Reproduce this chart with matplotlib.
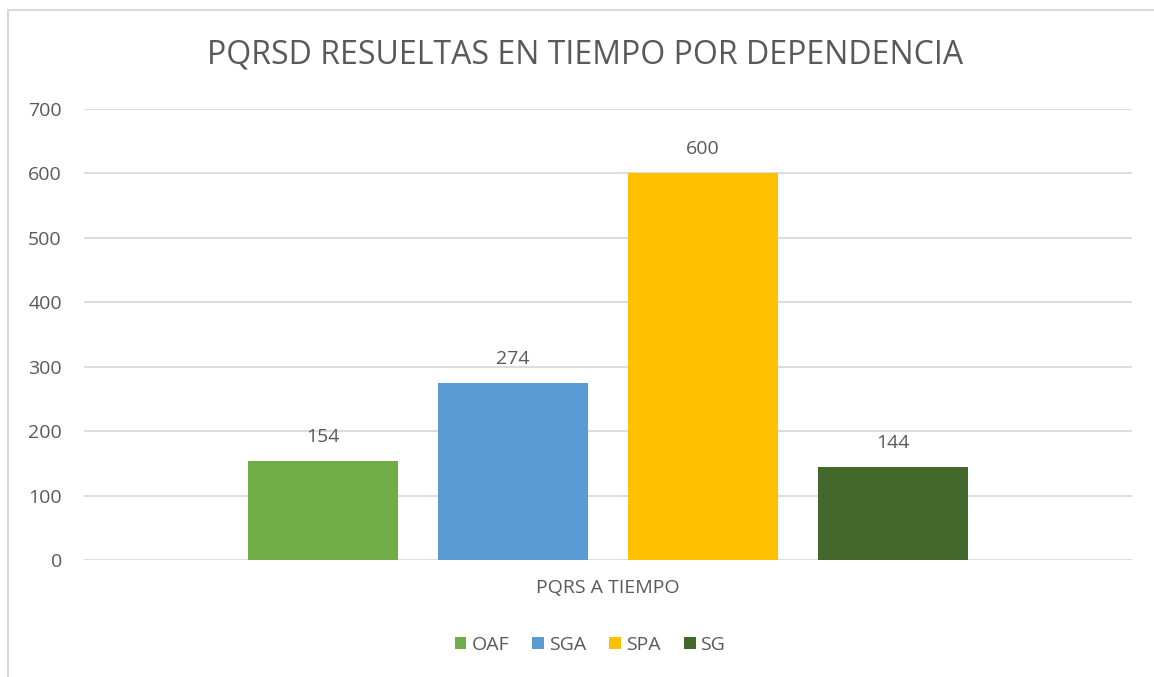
import matplotlib
matplotlib.use("Agg")
from matplotlib import pyplot as plt
from matplotlib.patches import Rectangle
import numpy as np

plt.rcParams["font.family"] = ["Open Sans", "DejaVu Sans"]

categoria = "PQRS A TIEMPO"
dependencias = ["OAF", "SGA", "SPA", "SG"]
valores = [154, 274, 600, 144]
colores = ["#70AD47", "#5B9BD5", "#FFC000", "#43682B"]

W, H = 1154, 677
fig = plt.figure(figsize=(W / 100, H / 100), dpi=100)
ax = fig.add_axes([84 / W, (H - 560) / H, (1132 - 84) / W, (560 - 109) / H])

# marco del area del grafico
fig.patches.append(Rectangle((8 / W, -0.1), 1.2, (H - 10) / H + 0.1, transform=fig.transFigure,
                             fill=False, edgecolor="#D9D9D9", linewidth=1.5))

ancho = 150 / 1048
paso = 190 / 1048
for i, (dep, v, c) in enumerate(zip(dependencias, valores, colores)):
    x = (i - 1.5) * paso
    ax.bar(x, v, width=ancho, color=c, label=dep, zorder=3)
    ax.annotate(str(v), (x, v), xytext=(0, 11), textcoords="offset points",
                ha="center", va="bottom", fontsize=14, color="#595959")

ax.set_xlim(-0.5, 0.5)
ax.set_ylim(0, 700)
ax.set_yticks(np.arange(0, 701, 100))
ax.yaxis.grid(True, color="#D9D9D9", linewidth=1.3, zorder=0)
ax.set_xticks([0])
ax.set_xticklabels([categoria])
ax.tick_params(axis="both", length=0, labelsize=14, labelcolor="#595959")
ax.tick_params(axis="y", pad=16)
ax.tick_params(axis="x", pad=14)
for s in ax.spines.values():
    s.set_visible(False)

fig.text(585 / W, 1 - 55 / H, "PQRSD RESUELTAS EN TIEMPO POR DEPENDENCIA",
         ha="center", va="center", fontsize=23, color="#595959")

fig.legend(loc="center", bbox_to_anchor=(590 / W, 1 - 645 / H), ncol=4, frameon=False,
           fontsize=14, labelcolor="#595959", handlelength=0.6, handleheight=0.6,
           handletextpad=0.25, columnspacing=1.2)

fig.savefig("out.png", dpi=100, facecolor="white")
